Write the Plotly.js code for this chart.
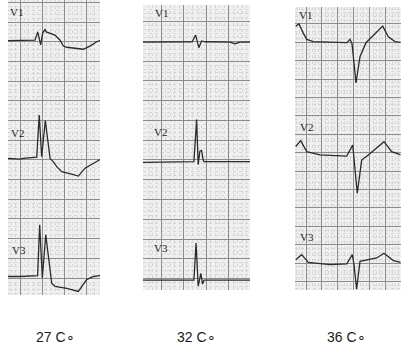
<!DOCTYPE html>
<html>
<head>
<meta charset="utf-8">
<script src="https://cdn.plot.ly/plotly-3.0.1.min.js"></script>
<style>html,body{margin:0;padding:0;background:#fff;}#chart{width:404px;height:355px;}</style>
</head>
<body>
<div id="chart"></div>
<script>
// Panel titles (temperature)
const panelLabels = ["27 C\u2218", "32 C\u2218", "36 C\u2218"];
const leadNames = ["V1", "V2", "V3"];

// ---- 27 C : time (s) and amplitude (mV) per lead ----
const t27_V1 = [-0.109, 0.136, 0.161, 0.175, 0.188, 0.206, 0.227, 0.238, 0.273, 0.318, 0.364, 0.394, 0.425, 0.575, 0.636, 0.697, 0.727];
const v27_V1 = [0.0, 0.01, 0.22, 0.04, -0.11, 0.19, 0.28, 0.22, 0.18, 0.14, 0.01, -0.14, -0.17, -0.22, -0.14, -0.03, 0.0];
const t27_V2 = [-0.109, 0.0, 0.03, 0.152, 0.175, 0.197, 0.23, 0.273, 0.303, 0.334, 0.379, 0.425, 0.47, 0.53, 0.591, 0.697, 0.727];
const v27_V2 = [0.0, -0.02, 0.0, 0.03, 1.10, 0.04, 0.96, 0.0, -0.09, -0.21, -0.34, -0.38, -0.40, -0.45, -0.25, -0.08, -0.03];
const t27_V3 = [-0.109, 0.0, 0.16, 0.179, 0.203, 0.234, 0.288, 0.318, 0.425, 0.53, 0.606, 0.667, 0.727];
const v27_V3 = [0.0, 0.0, 0.02, 1.31, -0.04, 1.06, -0.17, -0.25, -0.30, -0.38, -0.08, 0.0, 0.02];

// ---- 32 C ----
const t32_V1 = [-0.165, 0.254, 0.274, 0.305, 0.334, 0.358, 0.388, 0.612, 0.657, 0.702, 0.791];
const v32_V1 = [0.0, 0.0, 0.01, 0.18, -0.14, 0.03, 0.01, 0.0, -0.04, 0.0, 0.0];
const t32_V2 = [-0.165, 0.271, 0.29, 0.314, 0.328, 0.343, 0.358, 0.372, 0.379, 0.791];
const v32_V2 = [-0.02, -0.01, 0.0, 1.06, -0.08, 0.26, 0.28, 0.05, 0.0, 0.0];
const t32_V3 = [-0.165, 0.27, 0.29, 0.309, 0.328, 0.352, 0.367, 0.381, 0.791];
const v32_V3 = [0.0, 0.0, 0.0, 0.94, -0.15, 0.17, -0.10, 0.0, 0.0];

// ---- 36 C ----
const t36_V1 = [-0.129, -0.0875, -0.034, 0.009, 0.091, 0.509, 0.55, 0.575, 0.625, 0.675, 0.75, 0.821, 0.925, 0.959, 1.029, 1.1125, 1.184];
const v36_V1 = [0.45, 0.51, 0.26, 0.09, 0.03, 0.0, 0.09, -0.02, -1.09, -0.38, 0.0, 0.16, 0.39, 0.45, 0.16, 0.03, 0.01];
const t36_V2 = [-0.129, -0.066, 0.009, 0.175, 0.509, 0.584, 0.641, 0.696, 0.779, 0.884, 0.975, 1.071, 1.184];
const v36_V2 = [0.23, 0.39, 0.09, 0.0, -0.03, 0.27, -1.04, -0.14, 0.0, 0.18, 0.36, 0.09, 0.0];
const t36_V3 = [-0.129, -0.054, 0.029, 0.3, 0.509, 0.579, 0.6, 0.633, 0.675, 0.779, 0.884, 0.975, 1.092, 1.184];
const v36_V3 = [0.08, 0.22, 0.01, -0.05, -0.03, 0.22, -0.05, -0.72, 0.04, 0.08, 0.13, 0.26, 0.06, 0.01];

const panels = [
  {t: [t27_V1, t27_V2, t27_V3], v: [v27_V1, v27_V2, v27_V3]},
  {t: [t32_V1, t32_V2, t32_V3], v: [v32_V1, v32_V2, v32_V3]},
  {t: [t36_V1, t36_V2, t36_V3], v: [v36_V1, v36_V2, v36_V3]}
];

// layout geometry (positions, not data)
const baselines = [
  [-0.47, -3.46, -6.46],
  [-0.52, -3.54, -6.54],
  [-0.51, -3.56, -6.49]
];
const xDomains = [[8/404, 100/404], [143/404, 250/404], [295/404, 400.7/404]];
const yDomains = [[1 - 295/355, 1], [1 - 290/355, 1 - 5/355], [1 - 290/355, 1 - 7/355]];
const xRanges = [[-0.109, 0.727], [-0.165, 0.791], [-0.1375, 1.184]];
const yRanges = [[-6.93, 0.56], [-6.79, 0.42], [-7.23, 0.46]];
const labelPos = [
  [[8, 12], [9, 133], [10, 250]],
  [[153, 13], [152, 132], [152, 248]],
  [[297, 15], [298, 127], [298, 237]]
];
const bottomX = [55, 196.5, 346];

const traces = [];
const layout = {
  width: 404, height: 355,
  margin: {l: 0, r: 0, t: 0, b: 0},
  paper_bgcolor: '#ffffff',
  plot_bgcolor: '#efefef',
  showlegend: false,
  annotations: []
};

panels.forEach((p, i) => {
  const xa = i === 0 ? 'x' : 'x' + (i + 1);
  const ya = i === 0 ? 'y' : 'y' + (i + 1);
  for (let k = 0; k < 3; k++) {
    traces.push({
      x: p.t[k],
      y: p.v[k].map(val => val + baselines[i][k]),
      xaxis: xa, yaxis: ya,
      type: 'scatter', mode: 'lines',
      line: {color: '#2b2b2b', width: 1.3},
      hoverinfo: 'skip'
    });
    layout.annotations.push({
      text: leadNames[k], xref: 'paper', yref: 'paper',
      x: labelPos[i][k][0] / 404, y: 1 - labelPos[i][k][1] / 355,
      xanchor: 'left', yanchor: 'middle', showarrow: false,
      font: {family: 'Liberation Serif', size: 11, color: '#1e1e1e'}
    });
  }
  const axBase = {
    showticklabels: false, ticks: '', zeroline: false, showline: false,
    showgrid: true, gridcolor: '#8c8c8c', gridwidth: 1, fixedrange: true
  };
  layout[i === 0 ? 'xaxis' : 'xaxis' + (i + 1)] = Object.assign({}, axBase, {
    domain: xDomains[i], range: xRanges[i], anchor: ya,
    tick0: 0, dtick: 0.2,
    minor: {dtick: 0.04, showgrid: true, gridcolor: '#d6d6d6', griddash: 'dot', gridwidth: 1}
  });
  layout[i === 0 ? 'yaxis' : 'yaxis' + (i + 1)] = Object.assign({}, axBase, {
    domain: yDomains[i], range: yRanges[i], anchor: xa,
    tick0: 0, dtick: 0.5,
    minor: {dtick: 0.1, showgrid: true, gridcolor: '#d6d6d6', griddash: 'dot', gridwidth: 1}
  });
  layout.annotations.push({
    text: panelLabels[i], xref: 'paper', yref: 'paper',
    x: bottomX[i] / 404, y: 1 - 337 / 355,
    xanchor: 'center', yanchor: 'middle', showarrow: false,
    font: {family: 'Liberation Sans', size: 14, color: '#1a1a1a'}
  });
});

Plotly.newPlot('chart', traces, layout, {displayModeBar: false, staticPlot: true});
</script>
</body>
</html>
